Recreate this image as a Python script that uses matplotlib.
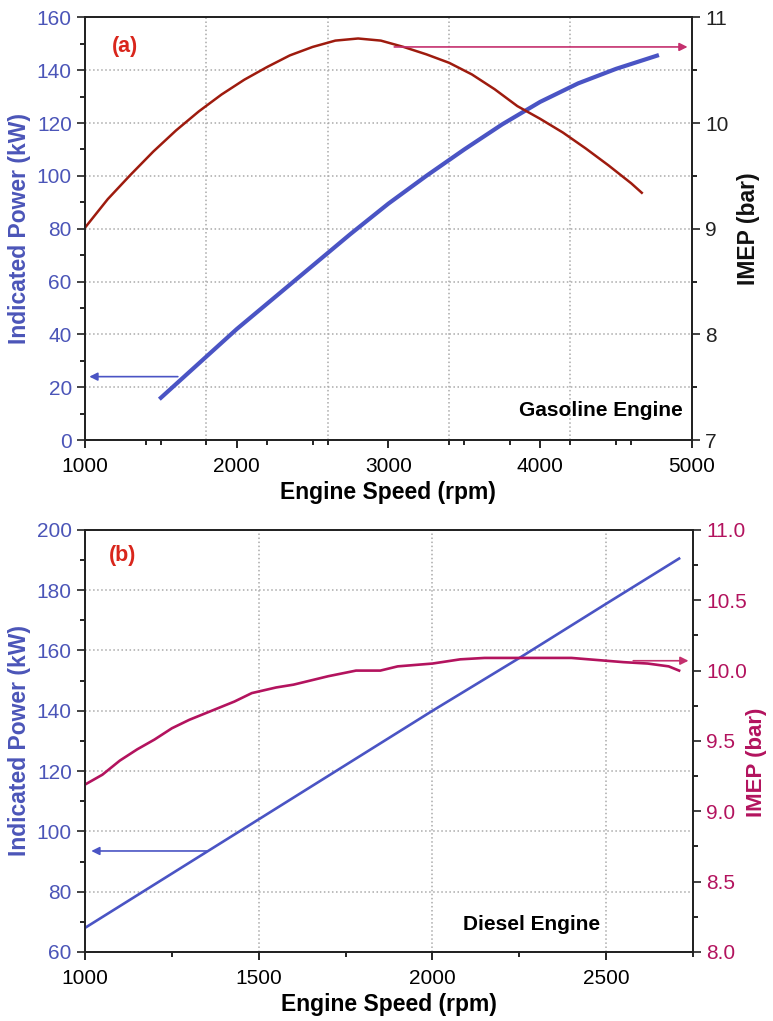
import numpy as np
import matplotlib.pyplot as plt
from matplotlib.ticker import MultipleLocator, FixedLocator

plt.rcParams['font.family'] = ['Liberation Sans', 'DejaVu Sans']

# gasoline engine (a)
gas_rpm_p = [1500, 1750, 2000, 2250, 2500, 2750, 3000, 3250, 3500, 3750, 4000, 4250, 4500, 4770]
gas_power = [16, 29, 42, 54, 66, 78, 89.5, 100, 110, 119.5, 128, 135, 140.5, 145.5]
gas_rpm_i = [1000, 1150, 1300, 1450, 1600, 1750, 1900, 2050, 2200, 2350, 2500, 2650, 2800,
             2950, 3100, 3250, 3400, 3550, 3700, 3850, 4000, 4150, 4300, 4450, 4600, 4670]
gas_imep = [9.01, 9.28, 9.51, 9.73, 9.93, 10.11, 10.27, 10.41, 10.53, 10.64, 10.72, 10.78, 10.80,
            10.78, 10.72, 10.65, 10.57, 10.46, 10.32, 10.16, 10.04, 9.91, 9.76, 9.60, 9.43, 9.34]

# diesel engine (b)
dsl_rpm_p = [1000, 1250, 1500, 1750, 2000, 2250, 2500, 2710]
dsl_power = [68, 86, 104, 122, 140, 157.5, 175.5, 190.5]
dsl_rpm_i = [1000, 1050, 1100, 1150, 1200, 1250, 1300, 1370, 1430, 1480, 1550, 1600, 1650, 1700,
             1780, 1850, 1900, 1950, 2000, 2080, 2150, 2230, 2300, 2400, 2500, 2550, 2620, 2680, 2710]
dsl_imep = [9.19, 9.26, 9.36, 9.44, 9.51, 9.59, 9.65, 9.72, 9.78, 9.84, 9.88, 9.90, 9.93, 9.96,
            10.00, 10.00, 10.03, 10.04, 10.05, 10.08, 10.09, 10.09, 10.09, 10.09, 10.07, 10.06, 10.05, 10.03, 10.0]

gas_vgrid = [1800, 2600, 3400, 4200]

blue = '#4a54c4'
blue_txt = '#4b55b8'
darkred = '#9e1b0e'
magenta = '#b3135e'
arrow_mag = '#c4306e'
lbl_red = '#d9261c'

fig = plt.figure(figsize=(7.73, 10.21), dpi=100)
ax1 = fig.add_axes([0.110, 0.569, 0.785, 0.414])
ax3 = fig.add_axes([0.110, 0.0676, 0.7865, 0.4134])


def style(ax, ax2, lcol, rcol):
    for a in (ax, ax2):
        for s in a.spines.values():
            s.set_linewidth(1.3)
            s.set_color('#222222')
        a.tick_params(which='both', direction='out', top=False, labelsize=15)
        a.tick_params(which='major', length=6, width=1.2)
        a.tick_params(which='minor', length=3.5, width=1.2)
    ax.tick_params(axis='y', colors='#222222', labelcolor=lcol)
    ax2.tick_params(axis='y', colors='#222222', labelcolor=rcol)
    ax.tick_params(axis='x', pad=6)
    ax.yaxis.grid(True, linestyle=':', color='#aaaaaa', linewidth=1.1)
    ax.set_axisbelow(True)


# ---- (a) ----
ax2 = ax1.twinx()
ax1.plot(gas_rpm_p, gas_power, color=blue, lw=3.0, zorder=3)
ax2.plot(gas_rpm_i, gas_imep, color=darkred, lw=1.8)
ax1.set_xlim(1000, 5000)
ax1.set_ylim(0, 160)
ax2.set_ylim(7, 11)
ax1.set_xticks([1000, 2000, 3000, 4000, 5000])
ax1.xaxis.set_minor_locator(FixedLocator([1400, 1500, 1800, 2200, 2500, 2600, 3400, 3500, 3800, 4200, 4500, 4600]))
ax1.yaxis.set_major_locator(MultipleLocator(20))
ax1.yaxis.set_minor_locator(MultipleLocator(10))
ax2.yaxis.set_major_locator(MultipleLocator(1))
ax2.yaxis.set_minor_locator(MultipleLocator(0.5))
style(ax1, ax2, blue_txt, '#222222')
for g in gas_vgrid:
    ax1.axvline(g, linestyle=':', color='#aaaaaa', linewidth=1.1, zorder=0)
ax1.set_xlabel('Engine Speed (rpm)', fontsize=16.5, fontweight='bold', labelpad=4)
ax1.set_ylabel('Indicated Power (kW)', fontsize=16.5, fontweight='bold', color=blue_txt, labelpad=4)
ax2.set_ylabel('IMEP (bar)', fontsize=16.5, fontweight='bold', color='#111111', labelpad=6)
ax1.annotate('', xy=(1010, 24), xytext=(1630, 24),
             arrowprops=dict(arrowstyle='-|>', color=blue, lw=1.2, mutation_scale=12))
ax2.annotate('', xy=(4990, 10.72), xytext=(3020, 10.72),
             arrowprops=dict(arrowstyle='-|>', color=arrow_mag, lw=1.2, mutation_scale=12))
ax1.text(0.045, 0.93, '(a)', transform=ax1.transAxes, color=lbl_red, fontsize=15.5,
         fontweight='bold', va='center')
ax1.text(0.985, 0.07, 'Gasoline Engine', transform=ax1.transAxes, fontsize=15,
         fontweight='bold', ha='right', va='center')

# ---- (b) ----
ax4 = ax3.twinx()
ax3.plot(dsl_rpm_p, dsl_power, color=blue, lw=1.9, zorder=3)
ax4.plot(dsl_rpm_i, dsl_imep, color=magenta, lw=1.9)
ax3.set_xlim(1000, 2750)
ax3.set_ylim(60, 200)
ax4.set_ylim(8, 11)
ax3.xaxis.set_major_locator(MultipleLocator(500))
ax3.xaxis.set_minor_locator(MultipleLocator(250))
ax3.yaxis.set_major_locator(MultipleLocator(20))
ax3.yaxis.set_minor_locator(MultipleLocator(10))
ax4.yaxis.set_major_locator(MultipleLocator(0.5))
ax4.yaxis.set_minor_locator(MultipleLocator(0.25))
ax4.yaxis.set_major_formatter('{x:.1f}')
style(ax3, ax4, blue_txt, magenta)
ax3.xaxis.grid(True, linestyle=':', color='#aaaaaa', linewidth=1.1)
ax3.set_xlabel('Engine Speed (rpm)', fontsize=16.5, fontweight='bold', labelpad=4)
ax3.set_ylabel('Indicated Power (kW)', fontsize=16.5, fontweight='bold', color=blue_txt, labelpad=4)
ax4.set_ylabel('IMEP (bar)', fontsize=16, fontweight='bold', color=magenta)
ax4.yaxis.set_label_coords(1.088, 0.45)
ax3.annotate('', xy=(1010, 93.5), xytext=(1360, 93.5),
             arrowprops=dict(arrowstyle='-|>', color=blue, lw=1.2, mutation_scale=12))
ax4.annotate('', xy=(2745, 10.07), xytext=(2570, 10.07),
             arrowprops=dict(arrowstyle='-|>', color=arrow_mag, lw=1.2, mutation_scale=12))
ax3.text(0.04, 0.94, '(b)', transform=ax3.transAxes, color=lbl_red, fontsize=15.5,
         fontweight='bold', va='center')
ax3.text(0.735, 0.064, 'Diesel Engine', transform=ax3.transAxes, fontsize=15,
         fontweight='bold', ha='center', va='center')

fig.savefig('out.png', dpi=100)
